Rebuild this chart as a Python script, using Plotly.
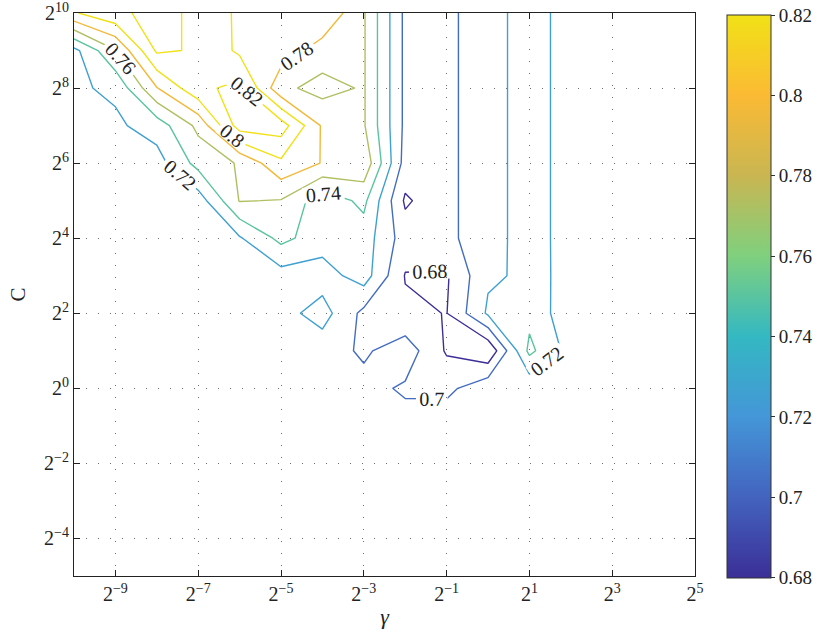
import plotly.graph_objects as go

# log2 grid of the SVM parameter search
log2_gamma = [-10, -9, -8, -7, -6, -5, -4, -3, -2, -1, 0, 1, 2, 3, 4, 5]
log2_C = [-5, -4, -3, -2, -1, 0, 1, 2, 3, 4, 5, 6, 7, 8, 9, 10]

# accuracy rows, one per log2(C) value, columns follow log2_gamma
acc_c_m5 = [0.710, 0.711, 0.710, 0.709, 0.710, 0.711, 0.710, 0.710, 0.711, 0.710, 0.709, 0.710, 0.711, 0.710, 0.710, 0.710]
acc_c_m4 = [0.710, 0.710, 0.711, 0.710, 0.709, 0.710, 0.710, 0.711, 0.710, 0.710, 0.710, 0.711, 0.710, 0.709, 0.710, 0.710]
acc_c_m3 = [0.711, 0.710, 0.710, 0.710, 0.710, 0.709, 0.711, 0.710, 0.710, 0.711, 0.710, 0.710, 0.709, 0.710, 0.711, 0.710]
acc_c_m2 = [0.710, 0.710, 0.709, 0.711, 0.710, 0.710, 0.710, 0.709, 0.710, 0.712, 0.710, 0.710, 0.710, 0.711, 0.710, 0.710]
acc_c_m1 = [0.710, 0.711, 0.710, 0.710, 0.711, 0.710, 0.710, 0.710, 0.707, 0.714, 0.710, 0.709, 0.710, 0.710, 0.710, 0.711]
acc_c_0 = [0.710, 0.710, 0.710, 0.711, 0.710, 0.710, 0.710, 0.706, 0.6974, 0.6945, 0.715, 0.705, 0.710, 0.710, 0.711, 0.710]
acc_c_1 = [0.712, 0.712, 0.711, 0.712, 0.712, 0.712, 0.709, 0.697, 0.711, 0.6778, 0.6626, 0.745, 0.712, 0.712, 0.712, 0.712]
acc_c_2 = [0.710, 0.710, 0.711, 0.710, 0.710, 0.713, 0.728, 0.6947, 0.6835, 0.6795, 0.723, 0.734, 0.7066, 0.712, 0.712, 0.712]
acc_c_3 = [0.710, 0.711, 0.710, 0.710, 0.710, 0.712, 0.711, 0.7295, 0.679, 0.6777, 0.7173, 0.7232, 0.717, 0.712, 0.712, 0.712]
acc_c_4 = [0.710, 0.710, 0.710, 0.710, 0.718, 0.7455, 0.7293, 0.7303, 0.690, 0.694, 0.715, 0.7256, 0.7146, 0.712, 0.712, 0.712]
acc_c_5 = [0.710, 0.710, 0.710, 0.7095, 0.761, 0.759, 0.7276, 0.745, 0.677, 0.694, 0.715, 0.7256, 0.7146, 0.712, 0.712, 0.712]
acc_c_6 = [0.710, 0.712, 0.7117, 0.747, 0.762, 0.796, 0.779, 0.775, 0.692, 0.694, 0.715, 0.7256, 0.7146, 0.712, 0.712, 0.712]
acc_c_7 = [0.712, 0.7164, 0.729, 0.765, 0.830, 0.830, 0.7774, 0.762, 0.6953, 0.694, 0.715, 0.7256, 0.7146, 0.712, 0.712, 0.712]
acc_c_8 = [0.717, 0.7236, 0.779, 0.815, 0.826, 0.7647, 0.7529, 0.762, 0.6953, 0.694, 0.715, 0.7256, 0.7146, 0.712, 0.712, 0.712]
acc_c_9 = [0.714, 0.759, 0.823, 0.818, 0.796, 0.792, 0.7707, 0.762, 0.6953, 0.694, 0.715, 0.7256, 0.7146, 0.712, 0.712, 0.712]
acc_c_10 = [0.798, 0.816, 0.826, 0.816, 0.796, 0.790, 0.798, 0.762, 0.6953, 0.694, 0.715, 0.7256, 0.7146, 0.712, 0.712, 0.712]

x_tick_exp = [-9, -7, -5, -3, -1, 1, 3, 5]
y_tick_exp = [-4, -2, 0, 2, 4, 6, 8, 10]
cbar_ticks = [0.68, 0.70, 0.72, 0.74, 0.76, 0.78, 0.80, 0.82]
cbar_labels = ["0.68", "0.7", "0.72", "0.74", "0.76", "0.78", "0.8", "0.82"]

Z = [acc_c_m5, acc_c_m4, acc_c_m3, acc_c_m2, acc_c_m1, acc_c_0, acc_c_1, acc_c_2,
     acc_c_3, acc_c_4, acc_c_5, acc_c_6, acc_c_7, acc_c_8, acc_c_9, acc_c_10]

# parula-like colours at each contour level
parula = [
    [0.0, "#3b2f97"],
    [1 / 7, "#4363bf"],
    [2 / 7, "#4496d8"],
    [3 / 7, "#34b8c2"],
    [4 / 7, "#7fd07e"],
    [5 / 7, "#c9b652"],
    [6 / 7, "#fbba34"],
    [1.0, "#f1e117"],
]

SERIF = "Liberation Serif, DejaVu Serif, serif"
INK = "#222222"


def pow2(e):
    return "2<sup>" + str(e).replace("-", "\u2212") + "</sup>"


fig = go.Figure()
fig.add_trace(go.Contour(
    x=log2_gamma, y=log2_C, z=Z,
    zmin=0.68, zmax=0.82,
    colorscale=parula,
    contours=dict(start=0.68, end=0.8201, size=0.02, coloring="lines",
                  showlabels=True,
                  labelfont=dict(family=SERIF, size=20, color=INK)),
    line=dict(width=1.4, smoothing=0),
    showscale=False,
    hoverinfo="skip",
))

# colour bar (gradient) via an invisible helper trace
fig.add_trace(go.Scatter(
    x=[0], y=[-50], mode="markers", showlegend=False, hoverinfo="skip",
    marker=dict(color=[0.75], cmin=0.68, cmax=0.8201, colorscale=parula,
                opacity=0, size=1, showscale=True,
                colorbar=dict(
                    thickness=44, thicknessmode="pixels",
                    len=1.0, lenmode="fraction", y=0.497, yanchor="middle",
                    x=1.0515, xanchor="left", xpad=0, ypad=0,
                    outlinewidth=1, outlinecolor="#333333",
                    tickvals=cbar_ticks, ticktext=cbar_labels,
                    ticks="outside", ticklen=4, tickcolor="#333333",
                    ticklabeloverflow="allow",
                    tickfont=dict(family=SERIF, size=19, color=INK),
                )),
))

axis_common = dict(
    showline=True, linecolor=INK, linewidth=1, mirror="ticks",
    ticks="inside", ticklen=6, tickcolor=INK,
    showgrid=True, gridcolor="rgba(70,70,70,0.8)", griddash="1px,11px", gridwidth=1,
    zeroline=False, automargin=False, ticklabeloverflow="allow",
    tickfont=dict(family=SERIF, size=20, color=INK),
)

fig.update_xaxes(range=[-10, 5], tickvals=x_tick_exp,
                 ticktext=[pow2(e) for e in x_tick_exp],
                 title=dict(text="<i>γ</i>", font=dict(family=SERIF, size=22, color=INK), standoff=4),
                 **axis_common)
fig.update_yaxes(range=[-5, 10], tickvals=y_tick_exp,
                 ticktext=[pow2(e) for e in y_tick_exp],
                 title=dict(text="C", font=dict(family=SERIF, size=21, color=INK), standoff=12),
                 **axis_common)

fig.update_layout(
    width=821, height=641,
    margin=dict(l=74, r=126, t=13, b=65, autoexpand=False),
    plot_bgcolor="white", paper_bgcolor="white",
    showlegend=False,
)

# remove the browser's default 8px page margin so the figure fills the window
fig.write_html("out.html", config={"displayModeBar": False},
               post_script="document.body.style.margin='0px';")
